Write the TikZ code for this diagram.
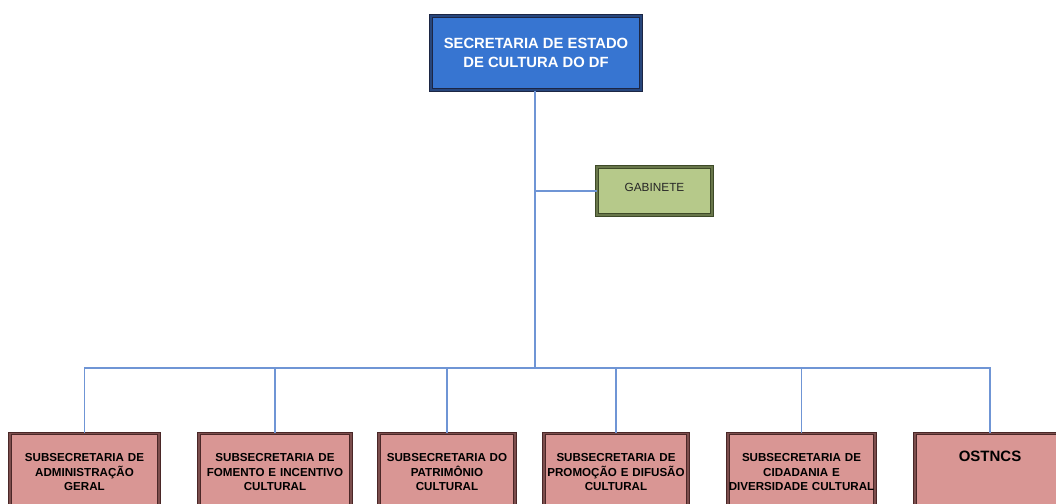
\documentclass[tikz,border=0pt]{standalone}
\usepackage{fontspec}
\setmainfont{Liberation Sans}
\definecolor{secblue}{HTML}{3775D1}
\definecolor{secline}{HTML}{1C2644}
\definecolor{gabgreen}{HTML}{B6C98A}
\definecolor{gabline}{HTML}{3E4A28}
\definecolor{subred}{HTML}{D99694}
\definecolor{subline}{HTML}{4A2727}
\definecolor{conncolor}{HTML}{6F95D5}

\begin{document}
\begin{tikzpicture}[x=1pt,y=-1pt,
    boxline/.style={line width=1pt, double distance=1.3pt},
    secbox/.style={boxline, draw=secline, double=secline!60!secblue,
        fill=secblue, text=white,
        font=\bfseries\fontsize{14.8}{19}\selectfont, align=center,
        minimum width=210pt, minimum height=74pt},
    gabbox/.style={boxline, draw=gabline, double=gabline!65!gabgreen,
        fill=gabgreen, text=black!85,
        font=\fontsize{11.8}{14}\selectfont,
        minimum width=115pt, minimum height=48pt},
    subbox/.style={boxline, draw=subline, double=subline!65!subred,
        fill=subred, text=black,
        font=\bfseries\fontsize{11.6}{14.5}\selectfont, align=center,
        anchor=north, inner xsep=0pt, inner ysep=0pt,
        text height=28pt, text depth=70pt},
    conn/.style={conncolor, line width=1.1pt}]

\useasboundingbox (0,0) rectangle (1056,503);
\clip (0,0) rectangle (1056,503);

% Boxes
\node[  secbox
    ] (secretaria) at (536,53) {SECRETARIA DE ESTADO\\DE CULTURA DO DF};
\node[  gabbox,
        text depth=8pt
    ] (gabinete) at (654.5,191) {GABINETE};
\coordinate (bus) at (535,368);
\node[  subbox,
        text width=149pt
    ] (sub_adm) at (84.5,433) {SUBSECRETARIA DE\\ADMINISTRAÇÃO\\GERAL};
\node[  subbox,
        text width=152pt
    ] (sub_fomento) at (275,433) {SUBSECRETARIA DE\\FOMENTO E INCENTIVO\\CULTURAL};
\node[  subbox,
        text width=136pt
    ] (sub_patrimonio) at (447,433) {SUBSECRETARIA DO\\PATRIMÔNIO\\CULTURAL};
\node[  subbox,
        text width=144pt
    ] (sub_promocao) at (616,433) {SUBSECRETARIA DE\\PROMOÇÃO E DIFUSÃO\\CULTURAL};
\node[  subbox,
        text width=147pt
    ] (sub_cidadania) at (801.5,433) {SUBSECRETARIA DE\\CIDADANIA E\\DIVERSIDADE CULTURAL};
\node[  subbox,
        text width=150pt,
        font=\bfseries\fontsize{15}{18}\selectfont
    ] (ostncs) at (990,433) {OSTNCS};

% Connectors
\draw[conn]
    (secretaria.south -| bus) -- (bus)
    (gabinete.west) -- (gabinete.west -| bus)
    (sub_adm.north) |- (bus)
    (sub_fomento.north) |- (bus)
    (sub_patrimonio.north) |- (bus)
    (sub_promocao.north) |- (bus)
    (sub_cidadania.north) |- (bus)
    (ostncs.north) |- (bus);
\end{tikzpicture}
\end{document}
